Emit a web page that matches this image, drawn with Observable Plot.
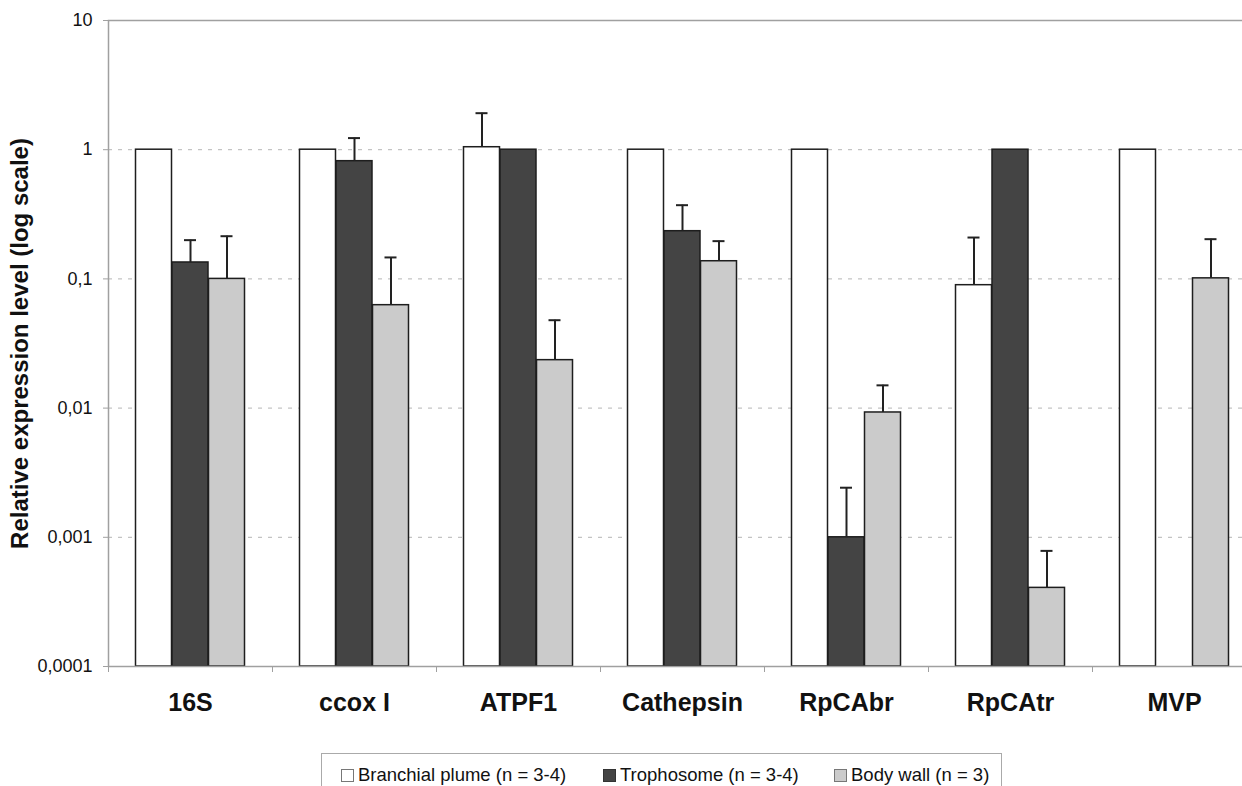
<!DOCTYPE html>
<html>
<head>
<meta charset="utf-8">
<script src="https://cdn.jsdelivr.net/npm/d3@7"></script>
<script src="https://cdn.jsdelivr.net/npm/@observablehq/plot@0.6"></script>
<style>
  html, body { margin: 0; padding: 0; background: white; overflow: hidden; }
  body { width: 1242px; height: 786px; position: relative; font-family: "Liberation Sans", Arial, sans-serif; }
  #legend { position: absolute; left: 321px; top: 753px; width: 681px; height: 50px; border: 1px solid #aaa; box-sizing: border-box; }
  .item { position: absolute; top: 10px; display: flex; align-items: center; font-size: 18.5px; color: #111; white-space: nowrap; }
  .sw { width: 13px; height: 13px; box-sizing: border-box; border: 1px solid #777; margin-right: 4px; }
</style>
</head>
<body>
<div id="chart"></div>
<div id="legend"></div>
<script>
const categories = ["16S", "ccox I", "ATPF1", "Cathepsin", "RpCAbr", "RpCAtr", "MVP"];
const seriesNames = ["Branchial plume (n = 3-4)", "Trophosome (n = 3-4)", "Body wall (n = 3)"];
const branchial    = [1, 1, 1.045, 1, 1, 0.0894, 1];
const branchialErr = [null, null, 1.917, null, null, 0.209, null];
const trophosome    = [0.134, 0.815, 1, 0.234, 0.001, 1, null];
const trophosomeErr = [0.1995, 1.23, null, 0.372, 0.00242, null, null];
const bodywall    = [0.1, 0.0626, 0.0235, 0.137, 0.00925, 0.000406, 0.101];
const bodywallErr = [0.214, 0.1466, 0.0479, 0.196, 0.0150, 0.000785, 0.203];
const yTicks = [0.0001, 0.001, 0.01, 0.1, 1, 10];
const gridTicks = [0.001, 0.01, 0.1, 1];
const yTitle = "Relative expression level (log scale)";

const fills = ["#ffffff", "#444444", "#cbcbcb"];
const W = 1242, mL = 108, mR = -14;
const step = (W - mL - mR) / categories.length;
const barW = 36.5;
const yMin = 1e-4;

const seriesVals = [branchial, trophosome, bodywall];
const seriesErrs = [branchialErr, trophosomeErr, bodywallErr];

const marks = [Plot.gridY(gridTicks, {stroke: "#b5b5b5", strokeOpacity: 1, strokeDasharray: "4,6", strokeWidth: 1})];

seriesNames.forEach((name, s) => {
  const rows = categories.map((c, i) => ({cat: c, value: seriesVals[s][i], err: seriesErrs[s][i]}));
  const dx = (s - 1) * barW;
  const barRows = rows.filter(d => d.value != null);
  const errRows = rows.filter(d => d.value != null && d.err != null);
  marks.push(Plot.barY(barRows, {x: "cat", y1: () => yMin, y2: "value", dx, fill: fills[s], stroke: "#1e1e1e", strokeWidth: 1.5}));
  marks.push(Plot.ruleX(errRows, {x: "cat", y1: "value", y2: "err", dx, stroke: "#222", strokeWidth: 2}));
  marks.push(Plot.tickY(errRows, {x: "cat", y: "err", dx, insetLeft: 12, insetRight: 12, stroke: "#222", strokeWidth: 2}));
});

const fmt = d => String(d).replace(".", ",");

marks.push(
  Plot.frame({stroke: "#a0a0a0", strokeWidth: 1.5}),
  Plot.axisY({ticks: yTicks, tickSize: 5, tickFormat: () => "", stroke: "#a0a0a0", label: null}),
  Plot.axisY({ticks: yTicks, tickSize: 0, tickPadding: 16, tickFormat: fmt, fontSize: 18, fill: "#111", label: null}),
  Plot.axisX({tickSize: 6, tickFormat: () => "", dx: -step / 2, stroke: "#a0a0a0", label: null}),
  Plot.axisX({tickSize: 0, tickPadding: 27, fontSize: 25, fontWeight: "bold", fill: "#111", label: null}),
  Plot.text([yTitle], {frameAnchor: "left", dx: -88, rotate: -90, fontSize: 24, fontWeight: "bold", textAnchor: "middle", fill: "#111"})
);

const plot = Plot.plot({
  width: W, height: 740,
  marginLeft: mL, marginRight: mR, marginTop: 20, marginBottom: 74,
  x: {domain: categories, paddingInner: 1 - barW / step, paddingOuter: (1 - barW / step) / 2},
  y: {type: "log", domain: [yMin, 10]},
  style: {fontFamily: '"Liberation Sans", Arial, sans-serif', background: "white", overflow: "visible"},
  marks
});
document.getElementById("chart").appendChild(plot);

const legend = document.getElementById("legend");
const lefts = [19, 281, 512];
seriesNames.forEach((name, s) => {
  const item = document.createElement("div");
  item.className = "item";
  item.style.left = lefts[s] + "px";
  const sw = document.createElement("div");
  sw.className = "sw";
  sw.style.background = fills[s];
  if (s === 1) sw.style.borderColor = "#333";
  const t = document.createElement("span");
  t.textContent = name;
  item.appendChild(sw); item.appendChild(t);
  legend.appendChild(item);
});
</script>
</body>
</html>
